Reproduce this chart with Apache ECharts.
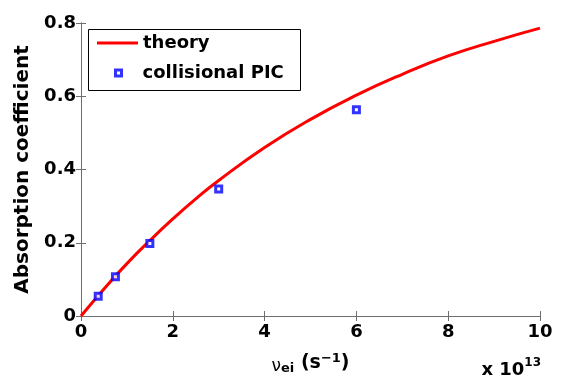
<!DOCTYPE html>
<html><head><meta charset="utf-8">
<script src="https://cdn.jsdelivr.net/npm/echarts@6/dist/echarts.min.js"></script>
<style>html,body{margin:0;padding:0;background:#fff}#c{width:563px;height:380px}</style>
</head><body><div id="c"></div>
<script>
const xTicks = [0, 2, 4, 6, 8, 10];
const yTicks = [0, 0.2, 0.4, 0.6, 0.8];
// theory curve (x in units of 1e13 s^-1)
const theoryX = [0, 0.5, 1, 1.5, 2, 2.5, 3, 4, 5, 6, 7, 8, 9, 10];
const theoryY = [0, 0.074, 0.143, 0.206, 0.265, 0.32, 0.37, 0.46, 0.537, 0.603, 0.66, 0.71, 0.75, 0.786];
// collisional PIC points
const picX = [0.375, 0.75, 1.5, 3, 6];
const picY = [0.054, 0.107, 0.198, 0.347, 0.563];

const FONT = 'DejaVu Sans';
const axisGray = '#6e6e6e';
const chart = echarts.init(document.getElementById('c'), null, {renderer: 'canvas'});
const common = {
  axisLine: {show: true, lineStyle: {color: axisGray, width: 1}},
  axisTick: {show: true, inside: true, length: 5, lineStyle: {color: axisGray}},
  splitLine: {show: false}
};
chart.setOption({
  animation: false,
  grid: {left: 81, right: 23, top: 23, bottom: 63, containLabel: false},
  xAxis: [
    Object.assign({type: 'value', min: xTicks[0], max: xTicks[xTicks.length - 1], interval: 2, position: 'bottom',
      axisLabel: {color: '#000', fontFamily: FONT, fontWeight: 'bold', fontSize: 18, margin: 7},
      name: '{nu|ν}{sub|ei}{b| (s}{sup|−1}{b|)}', nameLocation: 'middle', nameGap: 36,
      nameTextStyle: {rich: {
        nu: {fontFamily: FONT, fontSize: 17, color: '#000', verticalAlign: 'bottom'},
        sub: {fontFamily: FONT, fontWeight: 'bold', fontSize: 13, color: '#000', padding: [10, 0, 0, 0]},
        b: {fontFamily: FONT, fontWeight: 'bold', fontSize: 19, color: '#000'},
        sup: {fontFamily: FONT, fontWeight: 'bold', fontSize: 13, color: '#000', padding: [0, 0, 10, 0]}
      }}
    }, common),
    Object.assign({type: 'value', min: 0, max: 10, interval: 2, position: 'top',
      axisLabel: {show: false}}, common)
  ],
  yAxis: [
    Object.assign({type: 'value', min: yTicks[0], max: yTicks[yTicks.length - 1], interval: 0.2, position: 'left',
      axisLabel: {color: '#000', fontFamily: FONT, fontWeight: 'bold', fontSize: 18, margin: 5,
        formatter: v => (v === 0 ? '0' : v.toFixed(1))},
      name: 'Absorption coefficient', nameLocation: 'middle', nameGap: 43, nameRotate: 90,
      nameTextStyle: {color: '#000', fontFamily: FONT, fontWeight: 'bold', fontSize: 20}
    }, common),
    Object.assign({type: 'value', min: 0, max: 0.8, interval: 0.2, position: 'right',
      axisLabel: {show: false}}, common)
  ],
  legend: [
    {data: [{name: 'theory', icon: 'rect'}], left: 97, top: 34, itemWidth: 41, itemHeight: 3, itemGap: 0,
      textStyle: {color: '#000', fontFamily: FONT, fontWeight: 'bold', fontSize: 18}, padding: 0},
    {data: ['collisional PIC'], left: 114, top: 64, itemWidth: 6, itemHeight: 6,
      itemStyle: {color: '#fff', borderColor: '#0000ff', borderWidth: 3},
      textStyle: {color: '#000', fontFamily: FONT, fontWeight: 'bold', fontSize: 18, padding: [0, 0, 0, 16]}, padding: 0}
  ],
  graphic: [
    {type: 'rect', shape: {x: 88.5, y: 29.5, width: 212, height: 61}, style: {fill: 'none', stroke: '#000', lineWidth: 1}, z: 100},
    {type: 'text', right: 22, top: 357, style: {
      text: '{b|x 10}{sup|13}',
      rich: {
        b: {fontFamily: FONT, fontWeight: 'bold', fontSize: 18, fill: '#000'},
        sup: {fontFamily: FONT, fontWeight: 'bold', fontSize: 12, fill: '#000', padding: [0, 0, 14, 0]}
      }}}
  ],
  series: [
    {name: 'theory', type: 'line', smooth: true, symbol: 'none',
      lineStyle: {color: '#ff0000', width: 3}, itemStyle: {color: '#ff0000'},
      data: theoryX.map((x, i) => [x, theoryY[i]]), z: 2},
    {name: 'collisional PIC', type: 'scatter', symbol: 'rect', symbolSize: 6,
      itemStyle: {color: '#fff', borderColor: '#0000ff', borderWidth: 3},
      data: picX.map((x, i) => [x, picY[i]]), z: 3}
  ]
});
</script></body></html>
